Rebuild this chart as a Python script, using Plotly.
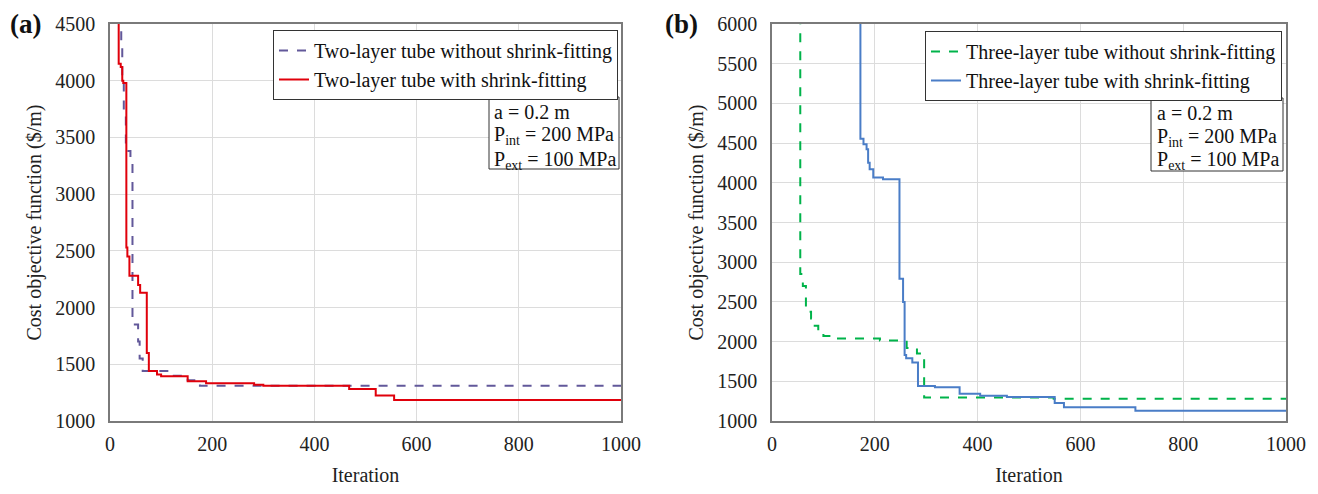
import plotly.graph_objects as go

# ---- data (iteration, cost), step-wise (hv) ----
two_wo_iter = [10, 22, 24, 27, 31, 40, 44, 55, 58, 64, 122, 152, 165, 176, 1000]
two_wo_cost = [4700, 4300, 4000, 3700, 3380, 3300, 1850, 1700, 1550, 1440, 1400, 1360, 1330, 1310, 1310]

two_w_iter = [10, 17, 21, 24, 26, 32, 34, 38, 55, 59, 72, 76, 92, 100, 152, 188, 282, 300, 468, 520, 556, 1000]
two_w_cost = [4700, 4150, 4120, 4000, 3980, 2530, 2450, 2280, 2200, 2130, 1600, 1440, 1410, 1395, 1350, 1333, 1320, 1310, 1283, 1224, 1186, 1186]

three_wo_iter = [10, 55, 60, 66, 76, 80, 90, 100, 120, 210, 262, 282, 296, 548, 1000]
three_wo_cost = [6500, 2850, 2700, 2375, 2290, 2200, 2140, 2070, 2040, 2015, 1920, 1850, 1297, 1280, 1280]

three_w_iter = [10, 172, 178, 184, 187, 190, 197, 216, 248, 255, 258, 261, 273, 284, 317, 365, 405, 457, 550, 568, 707, 1000]
three_w_cost = [6500, 4555, 4484, 4421, 4254, 4170, 4066, 4045, 2792, 2500, 1831, 1790, 1736, 1440, 1425, 1343, 1318, 1302, 1226, 1172, 1130, 1130]

x_ticks = [0, 200, 400, 600, 800, 1000]
y_ticks_a = [1000, 1500, 2000, 2500, 3000, 3500, 4000, 4500]
y_ticks_b = [1000, 1500, 2000, 2500, 3000, 3500, 4000, 4500, 5000, 5500, 6000]

names = ["Two-layer tube without shrink-fitting", "Two-layer tube with shrink-fitting",
         "Three-layer tube without shrink-fitting", "Three-layer tube with shrink-fitting"]
param_lines = ["a = 0.2 m", "P<sub>int</sub> = 200 MPa", "P<sub>ext</sub> = 100 MPa"]

FONT = "Liberation Serif"
OFF = 8                      # page body margin
W, H = 1318 - 2 * OFF, 494 - 2 * OFF
T = 24 - OFF
B = H - (421 - OFF)
ph = H - T - B

def px(xp):                  # reference page x -> paper coordinate
    return (xp - OFF) / W

def py(yp):                  # reference page y -> paper coordinate
    return 1 - ((yp - OFF) - T) / ph

fig = go.Figure()
fig.add_trace(go.Scatter(x=two_wo_iter, y=two_wo_cost, mode="lines", line_shape="hv",
                         name=names[0], line=dict(color="#62589a", width=2, dash="dash"),
                         xaxis="x", yaxis="y", legend="legend"))
fig.add_trace(go.Scatter(x=two_w_iter, y=two_w_cost, mode="lines", line_shape="hv",
                         name=names[1], line=dict(color="#e0000b", width=2),
                         xaxis="x", yaxis="y", legend="legend"))
fig.add_trace(go.Scatter(x=three_wo_iter, y=three_wo_cost, mode="lines", line_shape="hv",
                         name=names[2], line=dict(color="#00b34a", width=2, dash="dash"),
                         xaxis="x2", yaxis="y2", legend="legend2"))
fig.add_trace(go.Scatter(x=three_w_iter, y=three_w_cost, mode="lines", line_shape="hv",
                         name=names[3], line=dict(color="#4a7dc7", width=2),
                         xaxis="x2", yaxis="y2", legend="legend2"))

axis_common = dict(showline=True, linecolor="#7a7a7a", linewidth=1.5, mirror=True,
                   showgrid=True, gridcolor="#dcdcdc", gridwidth=1, zeroline=False,
                   ticks="", tickfont=dict(family=FONT, size=20, color="#222"))

title_font = dict(family=FONT, size=20, color="#222")
fig.update_layout(
    width=W, height=H, margin=dict(l=0, r=0, t=T, b=B, autoexpand=False),
    paper_bgcolor="white", plot_bgcolor="white",
    font=dict(family=FONT, size=20, color="#222"),
    xaxis=dict(domain=[px(110), px(621)], range=[0, 1000], tickvals=x_ticks, ticklabelstandoff=4,
               title=dict(text="Iteration", font=title_font, standoff=22),
               anchor="y", automargin=True, **axis_common),
    yaxis=dict(domain=[0, 1], range=[1000, 4500], tickvals=y_ticks_a, ticklabelstandoff=9,
               title=dict(text="Cost objective function ($/m)", font=title_font, standoff=8),
               anchor="x", automargin=False, **axis_common),
    xaxis2=dict(domain=[px(772), px(1286)], range=[0, 1000], tickvals=x_ticks, ticklabelstandoff=4,
                title=dict(text="Iteration", font=title_font, standoff=22),
                anchor="y2", automargin=True, **axis_common),
    yaxis2=dict(domain=[0, 1], range=[1000, 6000], tickvals=y_ticks_b, ticklabelstandoff=9,
                title=dict(text="Cost objective function ($/m)", font=title_font, standoff=8),
                anchor="x2", automargin=False, **axis_common),
    legend=dict(x=px(618), y=py(30), xanchor="right", yanchor="top",
                bordercolor="#333", borderwidth=1, bgcolor="white",
                font=dict(family=FONT, size=20, color="#111"), itemwidth=30,
                tracegroupgap=0),
    legend2=dict(x=px(1282), y=py(31), xanchor="right", yanchor="top",
                 bordercolor="#333", borderwidth=1, bgcolor="white",
                 font=dict(family=FONT, size=20, color="#111"), itemwidth=30,
                 tracegroupgap=0),
    showlegend=True,
)

# parameter boxes: (left, right, top, bottom, text-left, first-line-center) in reference page px
for x0, x1, y0, y1, xt, yc in [(489, 619, 97, 169, 492, 112), (1151, 1283, 98, 171, 1155, 113)]:
    fig.add_shape(type="rect", xref="paper", yref="paper", x0=px(x0), x1=px(x1), y0=py(y1), y1=py(y0),
                  line=dict(color="#333", width=1), fillcolor="white", layer="above")
    for i, t in enumerate(param_lines):
        fig.add_annotation(text=t, xref="paper", yref="paper", x=px(xt), y=py(yc + 24 * i),
                           xanchor="left", yanchor="middle", showarrow=False,
                           font=dict(family=FONT, size=20, color="#111"))

for lab, xc in [("(a)", 25), ("(b)", 681)]:
    fig.add_annotation(text="<b>%s</b>" % lab, xref="paper", yref="paper", x=px(xc), y=py(24),
                       xanchor="center", yanchor="middle", showarrow=False,
                       font=dict(family=FONT, size=27, color="#111"))

fig.write_html("out.html")
